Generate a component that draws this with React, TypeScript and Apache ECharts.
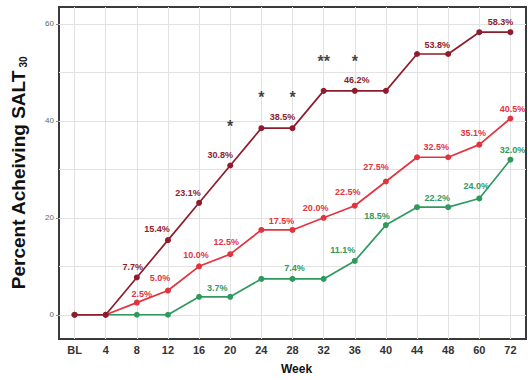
import React, { useEffect, useRef } from "react";
import * as echarts from "echarts";

// Study visits along the x axis
const weeks = ["BL", "4", "8", "12", "16", "20", "24", "28", "32", "36", "40", "44", "48", "60", "72"];

// Percent of patients achieving SALT 30, per group
const highDose = [0, 0, 7.7, 15.4, 23.1, 30.8, 38.5, 38.5, 46.2, 46.2, 46.2, 53.8, 53.8, 58.3, 58.3];
const midDose = [0, 0, 2.5, 5.0, 10.0, 12.5, 17.5, 17.5, 20.0, 22.5, 27.5, 32.5, 32.5, 35.1, 40.5];
const lowDose = [0, 0, 0, 0, 3.7, 3.7, 7.4, 7.4, 7.4, 11.1, 18.5, 22.2, 22.2, 24.0, 32.0];

// Visits whose value is printed next to the point
const highLabelWeeks = ["8", "12", "16", "20", "28", "36", "48", "72"];
const midLabelWeeks = ["8", "12", "16", "20", "28", "32", "36", "40", "48", "60", "72"];
const lowLabelWeeks = ["20", "28", "36", "40", "48", "60", "72"];

// Significance markers
const starWeeks = ["20", "24", "28", "32", "36"];
const starMarks = ["*", "*", "*", "**", "*"];
const starLevels = [39.7, 45.6, 45.6, 53.0, 53.0];

// Axis ticks
const yTicks = [0, 20, 40, 60];
const yGridLines = [0, 10, 20, 30, 40, 50, 60];

// Label placement tweaks (pixel offsets from the point), keyed by week
const highOffsets: Record<string, [number, number]> = {
  "8": [-4, -10], "12": [-11, -11], "16": [-11, -10], "20": [-10, -10],
  "28": [-10, -11], "36": [2, -11], "48": [-11, -9], "72": [-10, -10],
};
const midOffsets: Record<string, [number, number]> = {
  "8": [5, -9], "12": [-8, -13], "16": [-3, -11], "20": [-4, -12], "28": [-11, -9],
  "32": [-8, -10], "36": [-7, -14], "40": [-10, -14], "48": [-12, -10], "60": [-6, -12], "72": [2, -9],
};
const lowOffsets: Record<string, [number, number]> = {
  "20": [-13, -9], "28": [2, -11], "36": [-12, -11], "40": [-9, -9],
  "48": [-11, -9], "60": [-3, -12], "72": [2, -10],
};

const HIGH = "#8e1c2c";
const MID = "#e2343f";
const LOW = "#2f9a5e";

function buildData(values: number[], labelWeeks: string[], offsets: Record<string, [number, number]>, color: string) {
  return values.map((v, i) => {
    const w = weeks[i];
    if (!labelWeeks.includes(w)) return v;
    return {
      value: v,
      label: {
        show: true,
        position: "inside",
        offset: offsets[w] || [0, -10],
        formatter: v.toFixed(1) + "%",
        color,
        fontSize: 9,
        fontWeight: "bold",
        fontFamily: "Liberation Sans, Arial, sans-serif",
      },
    };
  });
}

function lineSeries(name: string, values: number[], labelWeeks: string[], offsets: Record<string, [number, number]>, color: string, z: number) {
  return {
    name,
    type: "line",
    z,
    data: buildData(values, labelWeeks, offsets, color),
    symbol: "circle",
    symbolSize: 6,
    itemStyle: { color },
    lineStyle: { color, width: 1.7 },
    label: { show: false },
  };
}

export default function App() {
  const ref = useRef<HTMLDivElement>(null);

  useEffect(() => {
    if (!ref.current) return;
    const chart = echarts.init(ref.current, null, { renderer: "svg" });
    chart.setOption({
      animation: false,
      backgroundColor: "#ffffff",
      textStyle: { fontFamily: "Liberation Sans, Arial, sans-serif" },
      grid: {
        left: 59,
        right: 2,
        top: 7,
        bottom: 39,
        show: true,
        borderColor: "#3a3a3a",
        borderWidth: 2,
        backgroundColor: "transparent",
      },
      xAxis: {
        type: "category",
        data: weeks,
        boundaryGap: true,
        name: "Week",
        nameLocation: "middle",
        nameGap: 24,
        nameTextStyle: { fontSize: 12, fontWeight: "bold", color: "#111", padding: [0, 0, 0, 8] },
        axisLine: { show: false },
        axisTick: { show: false },
        splitLine: { show: false },
        axisLabel: { fontSize: 11, fontWeight: "bold", color: "#333", margin: 5 },
      },
      yAxis: {
        type: "value",
        min: -5,
        max: 63.5,
        name: "{a|Percent Acheiving SALT}{b| 30}",
        nameLocation: "middle",
        nameGap: 31,
        nameTextStyle: {
          rich: {
            a: { fontSize: 19, fontWeight: "bold", color: "#111", verticalAlign: "bottom", lineHeight: 21 },
            b: { fontSize: 10, fontWeight: "bold", color: "#111", verticalAlign: "bottom", lineHeight: 17 },
          },
        },
        axisLine: { show: false },
        axisTick: { show: true, length: 3, lineStyle: { color: "#888" }, customValues: yTicks },
        axisLabel: { fontSize: 8, color: "#666", margin: 5, customValues: yTicks },
        splitLine: { show: false },
      },
      series: [
        {
          name: "grid",
          type: "line",
          z: 1,
          data: [],
          silent: true,
          markLine: {
            silent: true,
            z: 1,
            symbol: ["none", "none"],
            label: { show: false },
            lineStyle: { color: "#e2e2e2", width: 1, type: "solid" },
            data: [
              ...yGridLines.map((v) => ({ yAxis: v })),
              ...weeks.map((w) => ({ xAxis: w })),
            ],
          },
        },
        lineSeries("low", lowDose, lowLabelWeeks, lowOffsets, LOW, 3),
        lineSeries("mid", midDose, midLabelWeeks, midOffsets, MID, 4),
        lineSeries("high", highDose, highLabelWeeks, highOffsets, HIGH, 5),
        {
          name: "significance",
          type: "scatter",
          z: 6,
          symbolSize: 0,
          data: starWeeks.map((w, i) => ({
            value: [w, starLevels[i]],
            label: {
              show: true,
              position: "inside",
              formatter: starMarks[i],
              fontSize: 16,
              fontWeight: "bold",
              color: "#111",
              offset: [0, 4],
            },
          })),
        },
      ],
    });
    return () => chart.dispose();
  }, []);

  return (
    <div
      ref={ref}
      style={{ position: "fixed", left: 0, top: 0, width: 528, height: 380 }}
    />
  );
}
